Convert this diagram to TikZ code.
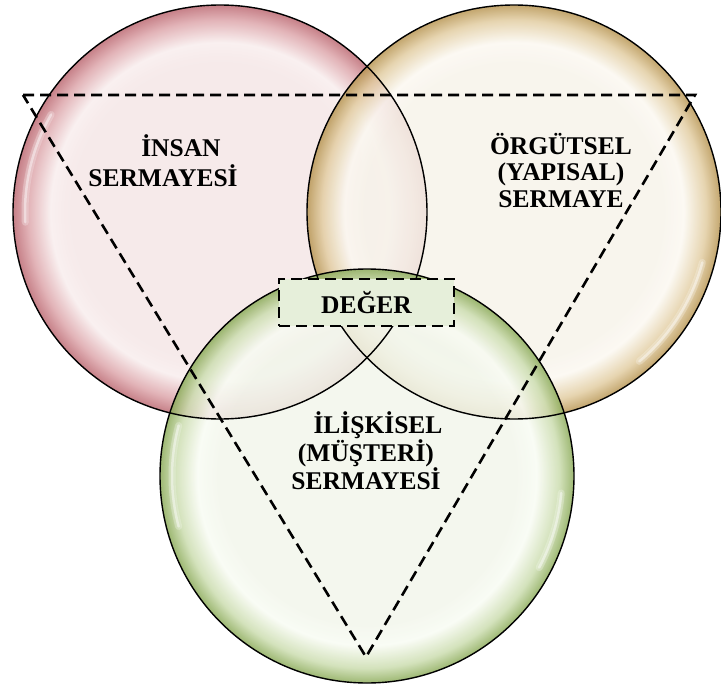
\documentclass[tikz,border=0pt]{standalone}
\usepackage{fontspec}
\setmainfont{Liberation Serif}

% circle colours: interior, highlight band, rim
\definecolor{insanin}{HTML}{F5E6E6}
\definecolor{insanhl}{HTML}{F8EDED}
\definecolor{insanmid}{HTML}{DDA6AB}
\definecolor{insanrim}{HTML}{BC6A73}
\definecolor{orgutin}{HTML}{F7F3EA}
\definecolor{orguthl}{HTML}{FBF8F1}
\definecolor{orgutmid}{HTML}{E2CDA2}
\definecolor{orgutrim}{HTML}{B89654}
\definecolor{iliskin}{HTML}{F2F6EB}
\definecolor{iliskhl}{HTML}{F8FBF3}
\definecolor{iliskmid}{HTML}{CCDDB0}
\definecolor{iliskrim}{HTML}{8CAB5A}
\definecolor{degerfill}{HTML}{E6EFDA}

% glossy radial fills; 25bp is the rim of the circle
\pgfdeclareradialshading{insanball}{\pgfpoint{0bp}{0bp}}{%
  color(0bp)=(insanin); color(18bp)=(insanin); color(20.5bp)=(insanhl);
  color(23.2bp)=(insanmid); color(25bp)=(insanrim); color(50bp)=(insanrim)}
\pgfdeclareradialshading{orgutball}{\pgfpoint{0bp}{0bp}}{%
  color(0bp)=(orgutin); color(18bp)=(orgutin); color(20.5bp)=(orguthl);
  color(23.2bp)=(orgutmid); color(25bp)=(orgutrim); color(50bp)=(orgutrim)}
\pgfdeclareradialshading{iliskball}{\pgfpoint{0bp}{0bp}}{%
  color(0bp)=(iliskin); color(18bp)=(iliskin); color(20.5bp)=(iliskhl);
  color(23.2bp)=(iliskmid); color(25bp)=(iliskrim); color(50bp)=(iliskrim)}

\tikzset{
  capital/.style={circle, inner sep=0pt, minimum size=414pt, fill opacity=0.85},
  rimline/.style={draw=black, line width=1.4pt},
  glosswide/.style={draw=white, line width=7pt, line cap=round, opacity=0.25},
  glossthin/.style={draw=white, line width=2.5pt, line cap=round, opacity=0.45},
  dashline/.style={line width=2.6pt, dash pattern=on 11pt off 6pt},
  caption/.style={font=\fontsize{25.5}{26.5}\selectfont\bfseries, align=center,
    inner sep=0pt, text=black},
}
% soft sheen along the inside of a rim (y axis points down, so angles run clockwise)
\newcommand\sheen[3]{%
  \draw[glosswide] ([shift={(#2:195)}]#1.center) arc[start angle=#2, end angle=#3, radius=195];
  \draw[glossthin] ([shift={(#2:195)}]#1.center) arc[start angle=#2, end angle=#3, radius=195];}

\begin{document}
\begin{tikzpicture}[x=1pt, y=-1pt]
\useasboundingbox (0,0) rectangle (721,685);

% the three capital components
\node[capital, shading=insanball] (insan) at (220,212) {};
\sheen{insan}{-183}{-150}
\node[capital, shading=orgutball] (orgut) at (514,212) {};
\sheen{orgut}{15}{50}
\node[capital, shading=iliskball] (iliski) at (367,476) {};
\sheen{iliski}{-195}{-165}
\sheen{iliski}{5}{28}

% outlines stay crisp over every overlap
\draw[rimline] (insan.center) circle[radius=207];
\draw[rimline] (orgut.center) circle[radius=207];
\draw[rimline] (iliski.center) circle[radius=207];

% dashed value triangle
\coordinate (tl) at (23,95);
\coordinate (tr) at (695,95);
\coordinate (bt) at (366,657);
\draw[dashline, line join=miter] (tl) -- (tr) -- (bt) -- cycle;

% labels
\node[caption] (insanlbl) at (163,160.5) {\hspace*{36pt}İNSAN\\[3pt]SERMAYESİ};
\node[caption] (orgutlbl) at (561,170.5) {ÖRGÜTSEL\\(YAPISAL)\\SERMAYE};
\node[caption] (iliskilbl) at (366,450.5) {\hspace*{24pt}İLİŞKİSEL\\(MÜŞTERİ)\\SERMAYESİ};

% value box at the common centre
\node[dashline, draw=black, fill=degerfill, minimum width=175pt,
  minimum height=47pt, inner sep=0pt, font=\fontsize{25.5}{26.5}\selectfont\bfseries]
  (deger) at (366.5,302.5) {DEĞER};
\end{tikzpicture}
\end{document}
